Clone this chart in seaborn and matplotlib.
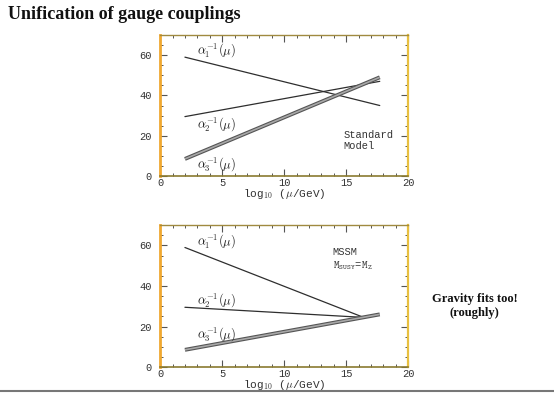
import numpy as np
import pandas as pd
import matplotlib.pyplot as plt
import seaborn as sns
from matplotlib.ticker import MultipleLocator

# endpoints of the straight running couplings
x_ends = [2, 17.7]
sm_a1 = [59, 35]
sm_a2 = [29.5, 47]
sm_a3 = [8.5, 49]

mssm_x12 = [2, 16.4]
mssm_a1 = [59, 24.5]
mssm_a2 = [29.5, 24.5]
mssm_x3 = [2, 17.7]
mssm_a3 = [8.5, 26]

x_ticks = [0, 5, 10, 15, 20]
y_ticks = [0, 20, 40, 60]

sns.set_theme(style="ticks")
plt.rcParams['font.family'] = ['Liberation Mono', 'DejaVu Sans']
plt.rcParams['mathtext.fontset'] = 'cm'

fig = plt.figure(figsize=(5.54, 3.93), dpi=100)
ax_top = fig.add_axes([0.289, 0.552, 0.448, 0.359])
ax_bot = fig.add_axes([0.289, 0.066, 0.448, 0.361])

line_col = '#2e2e2e'


def thin(ax, xs, ys):
    df = pd.DataFrame({'x': xs, 'y': ys})
    sns.lineplot(data=df, x='x', y='y', ax=ax, color=line_col, lw=0.9)


def thick(ax, xs, ys):
    df = pd.DataFrame({'x': xs, 'y': ys})
    sns.lineplot(data=df, x='x', y='y', ax=ax, color='#555555', lw=2.8,
                 solid_capstyle='butt')
    sns.lineplot(data=df, x='x', y='y', ax=ax, color='#a8a8a8', lw=1.2,
                 solid_capstyle='butt')


thin(ax_top, x_ends, sm_a1)
thin(ax_top, x_ends, sm_a2)
thick(ax_top, x_ends, sm_a3)

thin(ax_bot, mssm_x12, mssm_a1)
thin(ax_bot, mssm_x12, mssm_a2)
thick(ax_bot, mssm_x3, mssm_a3)

lab_kw = dict(fontsize=9, color='#222222')
ax_top.text(3.0, 60.8, r'$\alpha_1^{-1}(\mu)$', **lab_kw)
ax_top.text(3.0, 24.0, r'$\alpha_2^{-1}(\mu)$', **lab_kw)
ax_top.text(3.0, 4.0, r'$\alpha_3^{-1}(\mu)$', **lab_kw)
ax_top.text(14.8, 13.5, 'Standard\nModel', fontsize=7.5, color='#333333',
            linespacing=1.1)

ax_bot.text(3.0, 60.5, r'$\alpha_1^{-1}(\mu)$', **lab_kw)
ax_bot.text(3.0, 31.5, r'$\alpha_2^{-1}(\mu)$', **lab_kw)
ax_bot.text(3.0, 14.5, r'$\alpha_3^{-1}(\mu)$', **lab_kw)
ax_bot.text(13.9, 49, 'MSSM\n$\\mathtt{M_{SUSY}}$=$\\mathtt{M_Z}$', fontsize=7.5,
            color='#333333', linespacing=1.2)

for ax in (ax_top, ax_bot):
    ax.set_xlim(0, 20)
    ax.set_ylim(0, 70)
    ax.set_xticks(x_ticks)
    ax.set_yticks(y_ticks)
    ax.xaxis.set_minor_locator(MultipleLocator(1))
    ax.yaxis.set_minor_locator(MultipleLocator(5))
    ax.tick_params(which='both', direction='in', top=True, right=True,
                   labelsize=7.5, labelcolor='#333333', color='#555555')
    ax.tick_params(axis='x', which='major', pad=1.5)
    ax.tick_params(axis='y', which='major', pad=6)
    ax.tick_params(which='major', length=5, width=0.8)
    ax.tick_params(which='minor', length=2.5, width=0.7)
    ax.set_xlabel(r'log$_{10}$ ($\mu$/GeV)', fontsize=8, color='#333333',
                  labelpad=-1)
    ax.set_ylabel('')
    ax.spines['left'].set_color('#f0a830')
    ax.spines['left'].set_linewidth(2.0)
    ax.spines['right'].set_color('#e8c040')
    ax.spines['right'].set_linewidth(1.6)
    ax.spines['bottom'].set_color('#8a7a30')
    ax.spines['bottom'].set_linewidth(1.2)
    ax.spines['top'].set_color('#a08a40')
    ax.spines['top'].set_linewidth(1.0)

fig.text(0.014, 0.962, 'Unification of gauge couplings', family='Liberation Serif',
         fontweight='bold', fontsize=13, va='center', ha='left', color='#111111')
fig.text(0.857, 0.222, 'Gravity fits too!\n(roughly)', family='Liberation Serif',
         fontweight='bold', fontsize=9, ha='center', va='center',
         linespacing=1.2, color='#111111')
fig.add_artist(plt.Line2D([0, 1], [0.006, 0.006], color='#777777', lw=1.5,
                          transform=fig.transFigure))

fig.savefig('out.png', dpi=100)
